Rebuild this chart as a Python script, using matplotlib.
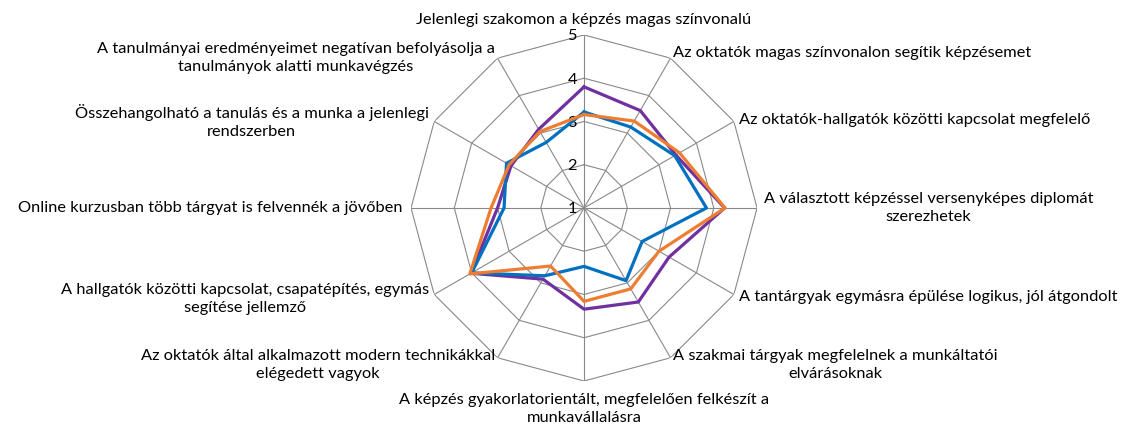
import numpy as np
import matplotlib
matplotlib.use("Agg")
import matplotlib.pyplot as plt

plt.rcParams['font.family'] = ['Lato', 'DejaVu Sans']

categories = [
    "Jelenlegi szakomon a képzés magas színvonalú",
    "Az oktatók magas színvonalon segítik képzésemet",
    "Az oktatók-hallgatók közötti kapcsolat megfelelő",
    "A választott képzéssel versenyképes diplomát\nszerezhetek",
    "A tantárgyak egymásra épülése logikus, jól átgondolt",
    "A szakmai tárgyak megfelelnek a munkáltatói\nelvárásoknak",
    "A képzés gyakorlatorientált, megfelelően felkészít a\nmunkavállalásra",
    "Az oktatók által alkalmazott modern technikákkal\nelégedett vagyok",
    "A hallgatók közötti kapcsolat, csapatépítés, egymás\nsegítése jellemző",
    "Online kurzusban több tárgyat is felvennék a jövőben",
    "Összehangolható a tanulás és a munka a jelenlegi\nrendszerben",
    "A tanulmányai eredményeimet negatívan befolyásolja a\ntanulmányok alatti munkavégzés",
]

series_purple = [3.80, 3.60, 3.45, 4.25, 3.27, 3.51, 3.34, 2.90, 4.02, 3.00, 2.95, 3.10]
series_blue = [3.22, 3.16, 3.42, 3.83, 2.55, 2.94, 2.35, 2.81, 4.00, 2.85, 3.07, 2.75]
series_orange = [3.16, 3.32, 3.55, 4.26, 3.00, 3.16, 3.16, 2.55, 4.05, 3.15, 3.00, 3.04]

tick_values = [1, 2, 3, 4, 5]

n = len(categories)
theta = np.arange(n) * 2 * np.pi / n
theta_closed = np.append(theta, theta[0])

fig = plt.figure(figsize=(11.32, 4.30), dpi=100)
ax = fig.add_axes([0.3631, 0.1140, 0.3057, 0.8047], projection='polar')
ax.set_theta_zero_location('N')
ax.set_theta_direction(-1)
ax.set_rlim(tick_values[0], tick_values[-1])
ax.grid(False)
ax.spines['polar'].set_visible(False)
ax.set_xticks([])
ax.set_yticks([])
ax.patch.set_alpha(0)

grid_color = '#898989'
for v in tick_values[1:]:
    ax.plot(theta_closed, [v] * (n + 1), color=grid_color, lw=0.8, zorder=1)
for t in theta:
    ax.plot([t, t], [tick_values[0], tick_values[-1]], color=grid_color, lw=0.8, zorder=1)

ax.plot(theta_closed, series_purple + series_purple[:1], color='#7030A0', lw=2.3, zorder=3)
ax.plot(theta_closed, series_blue + series_blue[:1], color='#0070C0', lw=2.3, zorder=4)
ax.plot(theta_closed, series_orange + series_orange[:1], color='#ED7D31', lw=2.3, zorder=5)

fs = 11.8
for v in tick_values:
    ax.annotate(str(v), xy=(0, v), xytext=(-5, -1), textcoords='offset points',
                ha='right', va='center', fontsize=fs, color='black')

# label placement (alignment + offset in points)
label_style = [
    ('center', 'bottom', (0, 6)),
    ('left', 'bottom', (2, -1)),
    ('left', 'center', (4, 1)),
    ('left', 'center', (5, 0)),
    ('left', 'center', (4, -2)),
    ('left', 'top', (2, 6)),
    ('center', 'top', (0, -9)),
    ('right', 'top', (-2, 6)),
    ('right', 'center', (-4, -3)),
    ('right', 'center', (-6, 0)),
    ('right', 'center', (-4, 0)),
    ('right', 'center', (-2, 0)),
]
for t, lab, (ha, va, off) in zip(theta, categories, label_style):
    ax.annotate(lab, xy=(t, tick_values[-1]), xytext=off, textcoords='offset points',
                ha=ha, va=va, multialignment='center', fontsize=fs,
                color='black', linespacing=1.35, annotation_clip=False)

fig.savefig('out.png', dpi=100)
